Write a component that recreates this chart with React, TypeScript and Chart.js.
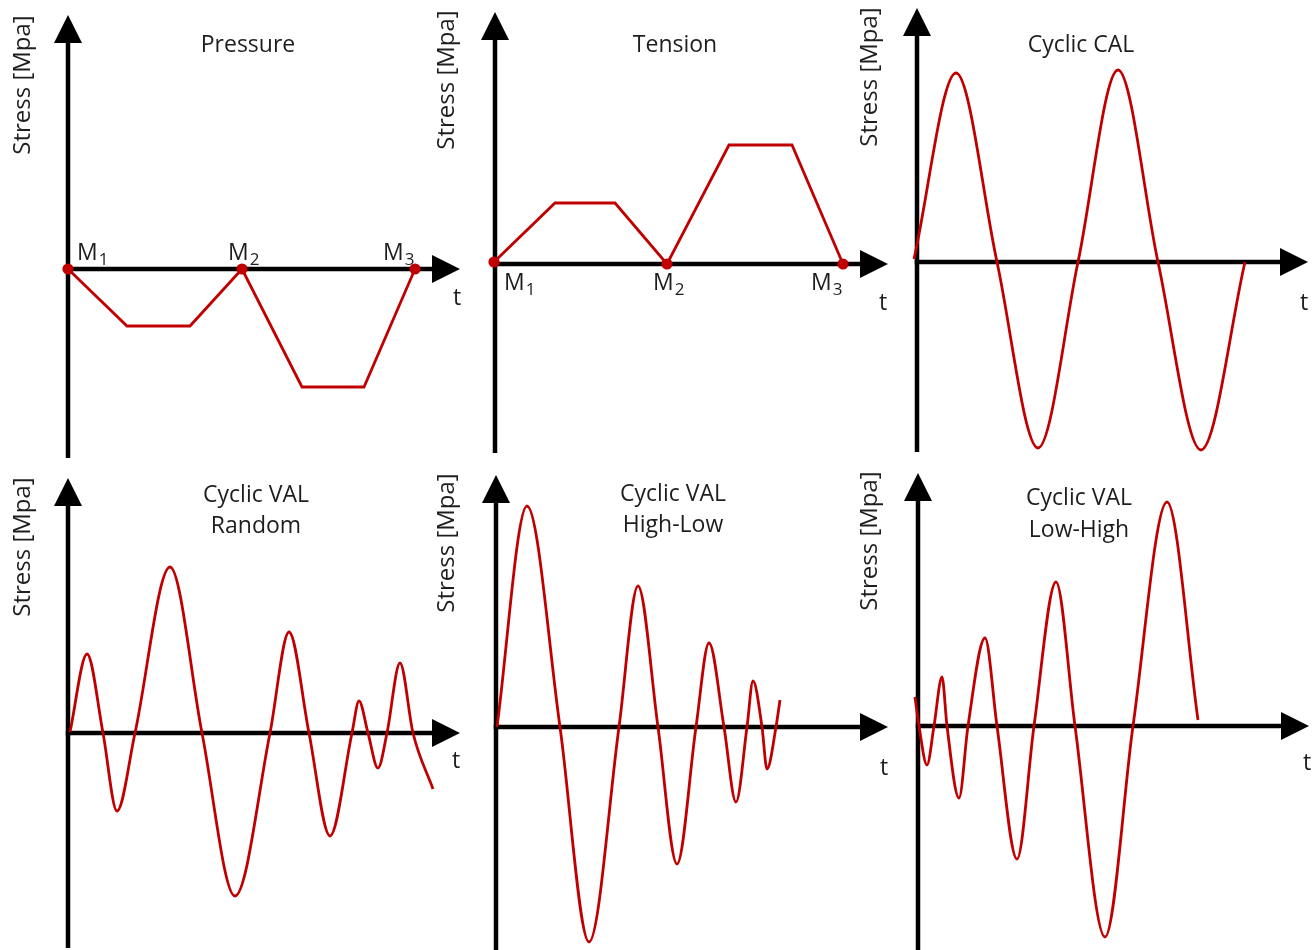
import React, { useEffect, useRef } from "react";
import { Chart, registerables } from "chart.js";

Chart.register(...registerables);

// ---------------- data (t in time units, stress in stress units) ----------------
const pressureT = [0, 5.9, 12.2, 17.4, 23.4, 29.6, 34.7];
const pressureS = [0, -5.7, -5.7, 0, -11.8, -11.8, 0];
const pressureMarks = [0, 3, 6];

const tensionT = [-0.1, 6.0, 12.0, 17.2, 23.4, 29.7, 34.8];
const tensionS = [0.2, 6.1, 6.1, 0, 11.9, 11.9, 0];
const tensionMarks = [0, 3, 6];

const calT = [-0.3, 3.9, 8.0, 12.1, 16.1, 20.1, 24.1, 28.4, 32.8];
const calS = [0.3, 18.9, 0, -18.6, 0, 19.2, 0, -18.8, 0];

const randomT = [0.2, 1.9, 3.5, 4.9, 6.7, 10.2, 13.4, 16.7, 20.2, 22.1, 24.1, 26.2, 28.4, 29.1, 30.0, 31.0, 31.9, 33.2, 34.5, 36.5];
const randomS = [0.1, 7.9, 0, -7.8, 0, 16.6, 0, -16.3, 0, 10.1, 0, -10.3, 0, 3.2, 0, -3.5, 0, 7.0, 0, -5.6];

const highLowT = [0.1, 3.1, 6.4, 9.3, 12.3, 14.2, 16.2, 18.1, 20.0, 21.3, 22.8, 24.0, 25.1, 25.7, 26.6, 27.1, 28.0, 28.4];
const highLowS = [0, 22.1, 0, -21.5, 0, 14.1, 0, -13.7, 0, 8.4, 0, -7.5, 0, 4.6, 0, -4.2, 0, 2.7];

const lowHighT = [-0.3, 0.1, 0.9, 1.6, 2.4, 2.9, 4.1, 5.0, 6.7, 7.9, 9.9, 11.6, 13.8, 15.7, 18.7, 21.5, 24.9, 28.0];
const lowHighS = [2.9, 0, -3.9, 0, 4.9, 0, -7.2, 0, 8.8, 0, -13.3, 0, 14.4, 0, -21.1, 0, 22.4, 0.6];

const yAxisLabel = "Stress [Mpa]";
const xAxisLabel = "t";
const markPrefix = "M";

// ---------------- styles / layout ----------------
const RED = "#c00000";
const INK = "#1e1e1e";
const FONT = "'Open Sans', 'Noto Sans', sans-serif";
const FONT_SIZE = 23;
const YLABEL_SIZE = 24;
const SUB_SIZE = 17;
const AXIS_W = 4.5;
const ARROW_L = 28;
const ARROW_W = 14;
const LINE_W = 2.8;
const MARK_R = 5.6;

type Panel = {
  title: string[];
  t: number[];
  s: number[];
  marks: number[];
  smooth: boolean;
  box: { left: number; top: number; width: number; height: number };
  area: { left: number; top: number; right: number; bottom: number };
  range: { xMin: number; xMax: number; yMin: number; yMax: number };
  titlePos: { x: number; y: number };
  lineGap: number;
  yLabel: { x: number; y: number };
  tLabel: { x: number; y: number };
  markOffsets: { dx: number; dy: number }[];
};

const PANELS: Panel[] = [
  {
    title: ["Pressure"], t: pressureT, s: pressureS, marks: pressureMarks, smooth: false,
    box: { left: 0, top: 0, width: 475, height: 470 },
    area: { left: 68, top: 15, right: 460, bottom: 458 },
    range: { xMin: 0, xMax: 39.2, yMin: -18.9, yMax: 25.4 },
    titlePos: { x: 248, y: 52 }, lineGap: 31,
    yLabel: { x: 23, y: 85 }, tLabel: { x: 457, y: 305 },
    markOffsets: [{ dx: 9, dy: -9 }, { dx: -14, dy: -9 }, { dx: -32, dy: -9 }],
  },
  {
    title: ["Tension"], t: tensionT, s: tensionS, marks: tensionMarks, smooth: false,
    box: { left: 430, top: 0, width: 470, height: 470 },
    area: { left: 495, top: 12, right: 888, bottom: 453 },
    range: { xMin: 0, xMax: 39.3, yMin: -18.9, yMax: 25.2 },
    titlePos: { x: 675, y: 52 }, lineGap: 31,
    yLabel: { x: 447, y: 80 }, tLabel: { x: 883, y: 310 },
    markOffsets: [{ dx: 10, dy: 28 }, { dx: -14, dy: 26 }, { dx: -32, dy: 26 }],
  },
  {
    title: ["Cyclic CAL"], t: calT, s: calS, marks: [], smooth: true,
    box: { left: 860, top: 0, width: 454, height: 470 },
    area: { left: 917, top: 8, right: 1308, bottom: 452 },
    range: { xMin: 0, xMax: 39.1, yMin: -19.0, yMax: 25.4 },
    titlePos: { x: 1081, y: 52 }, lineGap: 31,
    yLabel: { x: 870, y: 77 }, tLabel: { x: 1304, y: 310 },
    markOffsets: [],
  },
  {
    title: ["Cyclic VAL", "Random"], t: randomT, s: randomS, marks: [], smooth: true,
    box: { left: 0, top: 470, width: 475, height: 480 },
    area: { left: 68, top: 478, right: 460, bottom: 948 },
    range: { xMin: 0, xMax: 39.2, yMin: -21.5, yMax: 25.5 },
    titlePos: { x: 256, y: 502 }, lineGap: 31,
    yLabel: { x: 23, y: 547 }, tLabel: { x: 456, y: 768 },
    markOffsets: [],
  },
  {
    title: ["Cyclic VAL", "High-Low"], t: highLowT, s: highLowS, marks: [], smooth: true,
    box: { left: 430, top: 470, width: 470, height: 480 },
    area: { left: 496, top: 475, right: 888, bottom: 950 },
    range: { xMin: 0, xMax: 39.2, yMin: -22.3, yMax: 25.2 },
    titlePos: { x: 673, y: 501 }, lineGap: 31,
    yLabel: { x: 447, y: 543 }, tLabel: { x: 884, y: 775 },
    markOffsets: [],
  },
  {
    title: ["Cyclic VAL", "Low-High"], t: lowHighT, s: lowHighS, marks: [], smooth: true,
    box: { left: 860, top: 470, width: 454, height: 480 },
    area: { left: 918, top: 473, right: 1309, bottom: 950 },
    range: { xMin: 0, xMax: 39.1, yMin: -22.4, yMax: 25.3 },
    titlePos: { x: 1079, y: 505 }, lineGap: 32,
    yLabel: { x: 870, y: 541 }, tLabel: { x: 1307, y: 770 },
    markOffsets: [],
  },
];

function PanelChart({ cfg }: { cfg: Panel }) {
  const ref = useRef<HTMLCanvasElement>(null);

  useEffect(() => {
    const canvas = ref.current;
    if (!canvas) return;
    const { box, area, range } = cfg;
    const points = cfg.t.map((t, i) => ({ x: t, y: cfg.s[i] }));
    const radii = cfg.t.map((_, i) => (cfg.marks.includes(i) ? MARK_R : 0));

    const deco = {
      id: "deco",
      beforeDatasetsDraw(chart: any) {
        const ctx: CanvasRenderingContext2D = chart.ctx;
        const ca = chart.chartArea;
        const x0 = chart.scales.x.getPixelForValue(0);
        const y0 = chart.scales.y.getPixelForValue(0);
        ctx.save();
        ctx.strokeStyle = "#000";
        ctx.fillStyle = "#000";
        ctx.lineWidth = AXIS_W;
        ctx.lineCap = "butt";
        ctx.beginPath();
        ctx.moveTo(x0 - AXIS_W / 2, y0);
        ctx.lineTo(ca.right - ARROW_L + 1, y0);
        ctx.stroke();
        ctx.beginPath();
        ctx.moveTo(x0, ca.bottom);
        ctx.lineTo(x0, ca.top + ARROW_L - 1);
        ctx.stroke();
        ctx.beginPath();
        ctx.moveTo(ca.right, y0);
        ctx.lineTo(ca.right - ARROW_L, y0 - ARROW_W);
        ctx.lineTo(ca.right - ARROW_L, y0 + ARROW_W);
        ctx.closePath();
        ctx.fill();
        ctx.beginPath();
        ctx.moveTo(x0, ca.top);
        ctx.lineTo(x0 - ARROW_W, ca.top + ARROW_L);
        ctx.lineTo(x0 + ARROW_W, ca.top + ARROW_L);
        ctx.closePath();
        ctx.fill();
        ctx.restore();
      },
      afterDraw(chart: any) {
        const ctx: CanvasRenderingContext2D = chart.ctx;
        const xs = chart.scales.x;
        const ys = chart.scales.y;
        ctx.save();
        ctx.fillStyle = INK;
        ctx.font = `${FONT_SIZE}px ${FONT}`;
        ctx.textAlign = "center";
        ctx.textBaseline = "alphabetic";
        cfg.title.forEach((line, i) => {
          ctx.fillText(line, cfg.titlePos.x - box.left, cfg.titlePos.y - box.top + i * cfg.lineGap);
        });
        ctx.fillText(xAxisLabel, cfg.tLabel.x - box.left, cfg.tLabel.y - box.top);
        // rotated y label
        ctx.save();
        ctx.translate(cfg.yLabel.x - box.left, cfg.yLabel.y - box.top);
        ctx.rotate(-Math.PI / 2);
        ctx.textBaseline = "middle";
        ctx.font = `${YLABEL_SIZE}px ${FONT}`;
        ctx.fillText(yAxisLabel, 0, 0);
        ctx.restore();
        // marker labels
        cfg.marks.forEach((idx, k) => {
          const off = cfg.markOffsets[k];
          const px = xs.getPixelForValue(cfg.t[idx]) + off.dx;
          const py = ys.getPixelForValue(cfg.s[idx]) + off.dy;
          ctx.font = `${FONT_SIZE}px ${FONT}`;
          ctx.textAlign = "left";
          ctx.fillText(markPrefix, px, py);
          const w = ctx.measureText(markPrefix).width;
          ctx.font = `${SUB_SIZE}px ${FONT}`;
          ctx.fillText(String(k + 1), px + w + 1, py + 5);
        });
        ctx.restore();
      },
    };

    const chart = new Chart(canvas, {
      type: "line",
      data: {
        datasets: [
          {
            data: points,
            borderColor: RED,
            borderWidth: LINE_W,
            backgroundColor: RED,
            pointRadius: radii,
            pointBackgroundColor: RED,
            pointBorderWidth: 0,
            pointHoverRadius: 0,
            fill: false,
            tension: cfg.smooth ? 0.4 : 0,
            cubicInterpolationMode: cfg.smooth ? "monotone" : "default",
            clip: false as any,
          },
        ],
      },
      options: {
        animation: false,
        responsive: false,
        devicePixelRatio: 1,
        events: [],
        layout: {
          padding: {
            left: area.left - box.left,
            top: area.top - box.top,
            right: box.left + box.width - area.right,
            bottom: box.top + box.height - area.bottom,
          },
        },
        scales: {
          x: { type: "linear", display: false, min: range.xMin, max: range.xMax },
          y: { type: "linear", display: false, min: range.yMin, max: range.yMax },
        },
        plugins: {
          legend: { display: false },
          tooltip: { enabled: false },
          title: { display: false },
        },
      },
      plugins: [deco],
    } as any);

    return () => chart.destroy();
  }, [cfg]);

  return (
    <canvas
      ref={ref}
      width={cfg.box.width}
      height={cfg.box.height}
      style={{
        position: "absolute",
        left: cfg.box.left,
        top: cfg.box.top,
        width: cfg.box.width,
        height: cfg.box.height,
      }}
    />
  );
}

export default function App() {
  return (
    <div
      style={{
        position: "absolute",
        left: 0,
        top: 0,
        width: 1314,
        height: 950,
        background: "#ffffff",
        overflow: "hidden",
      }}
    >
      {PANELS.map((p, i) => (
        <PanelChart key={i} cfg={p} />
      ))}
    </div>
  );
}
